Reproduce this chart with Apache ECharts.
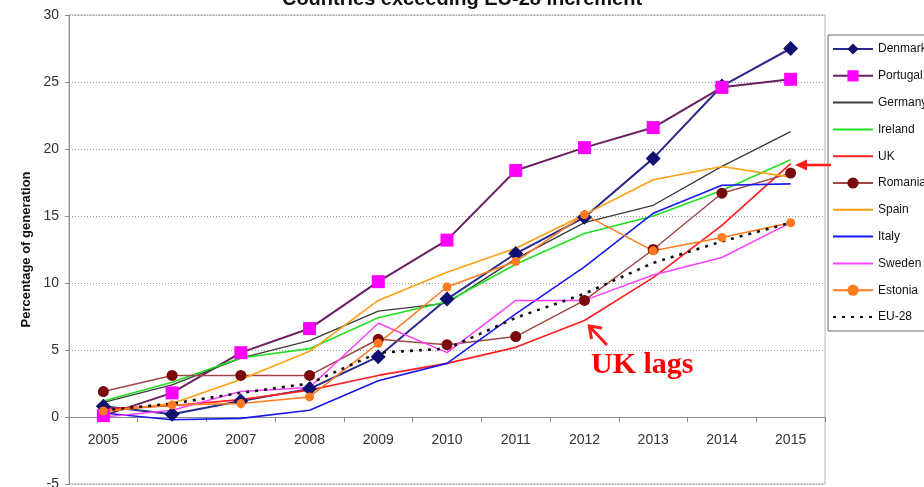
<!DOCTYPE html>
<html>
<head>
<meta charset="utf-8">
<script src="https://cdn.jsdelivr.net/npm/echarts@6/dist/echarts.min.js"></script>
<style>
html,body{margin:0;padding:0;background:#fff;}
#chart{width:924px;height:487px;}
</style>
</head>
<body>
<div id="chart"></div>
<script>
var years = ['2005','2006','2007','2008','2009','2010','2011','2012','2013','2014','2015'];
var denmark  = [0.8, 0.2, 1.2, 2.1, 4.5, 8.8, 12.2, 14.9, 19.3, 24.7, 27.5];
var portugal = [0.1, 1.8, 4.8, 6.6, 10.1, 13.2, 18.4, 20.1, 21.6, 24.6, 25.2];
var germany  = [1.1, 2.4, 4.4, 5.7, 7.9, 8.5, 11.8, 14.5, 15.8, 18.7, 21.3];
var ireland  = [1.2, 2.6, 4.4, 5.1, 7.4, 8.6, 11.4, 13.7, 15.0, 16.9, 19.2];
var uk       = [0.6, 0.85, 1.3, 2.0, 3.1, 4.0, 5.2, 7.2, 10.4, 14.3, 18.9];
var romania  = [1.9, 3.1, 3.1, 3.1, 5.8, 5.4, 6.0, 8.7, 12.5, 16.7, 18.2];
var spain    = [0.4, 1.0, 2.8, 4.9, 8.7, 10.8, 12.6, 15.1, 17.7, 18.7, 17.9];
var italy    = [0.3, -0.2, -0.1, 0.5, 2.7, 4.0, 7.7, 11.2, 15.2, 17.3, 17.4];
var sweden   = [0.0, 0.5, 1.9, 2.2, 7.0, 4.8, 8.7, 8.7, 10.6, 11.9, 14.5];
var estonia  = [0.45, 0.9, 1.0, 1.5, 5.5, 9.7, 11.6, 15.1, 12.4, 13.4, 14.5];
var eu28     = [0.5, 1.0, 1.8, 2.5, 4.8, 5.1, 7.4, 9.2, 11.5, 13.1, 14.5];
var legendNames = ['Denmark','Portugal','Germany','Ireland','UK','Romania','Spain','Italy','Sweden','Estonia','EU-28'];
var noMarker = ['Germany','Ireland','UK','Spain','Italy','Sweden','EU-28'];

var FONT = 'Liberation Sans, Arial, sans-serif';
var Y_MIN = -5, Y_MAX = 30;
var GRID_TOP = 15, GRID_BOTTOM = 3, H = 487;
// distance from the grid bottom to the zero line, so the category axis sits at y = 0
var zeroOffset = (0 - Y_MIN) / (Y_MAX - Y_MIN) * (H - GRID_TOP - GRID_BOTTOM);

function ln(name, data, color, width, symbol, symbolSize, markColor, dash) {
  return {
    name: name, type: 'line', data: data,
    symbol: symbol || 'none', symbolSize: symbolSize || 0,
    showSymbol: !!symbol,
    lineStyle: {color: color, width: width, type: dash || 'solid'},
    itemStyle: {color: markColor || color, borderWidth: 0},
    emphasis: {disabled: true},
    animation: false,
    z: 3
  };
}

var chart = echarts.init(document.getElementById('chart'), null, {renderer: 'canvas'});
chart.setOption({
  backgroundColor: '#fff',
  animation: false,
  title: {
    text: 'Countries exceeding EU-28 increment',
    left: 'center', top: -16,
    textStyle: {fontFamily: FONT, fontSize: 20, fontWeight: 'bold', color: '#111'}
  },
  grid: {left: 69, right: 99, top: GRID_TOP, bottom: GRID_BOTTOM, outerBoundsMode: 'none', containLabel: false,
         show: true, borderColor: '#b5b5b5', borderWidth: 1, backgroundColor: 'transparent'},
  legend: {
    orient: 'vertical', left: 828, top: 35,
    padding: [8, 60, 8, 4],
    itemGap: 14.8, itemWidth: 40, itemHeight: 14,
    borderColor: '#666', borderWidth: 1, backgroundColor: '#fff',
    textStyle: {fontFamily: FONT, fontSize: 12, color: '#111'},
    data: legendNames.map(function (n) {
      return noMarker.indexOf(n) >= 0 ? {name: n, itemStyle: {opacity: 0}} : {name: n};
    })
  },
  xAxis: {
    type: 'category', data: years, boundaryGap: true,
    offset: -zeroOffset,
    axisLine: {onZero: false, lineStyle: {color: '#8a8a8a', width: 1}},
    axisTick: {show: true, length: 5, lineStyle: {color: '#8a8a8a'}},
    axisLabel: {fontFamily: FONT, fontSize: 14, color: '#333', margin: 16},
    splitLine: {show: false}
  },
  yAxis: {
    type: 'value', min: Y_MIN, max: Y_MAX, interval: 5,
    name: 'Percentage of generation', nameLocation: 'middle', nameGap: 36,
    nameTextStyle: {fontFamily: FONT, fontSize: 13, fontWeight: 'bold', color: '#111'},
    axisLine: {show: true, lineStyle: {color: '#8a8a8a', width: 1}},
    axisTick: {show: true, length: 4, lineStyle: {color: '#8a8a8a'}},
    axisLabel: {fontFamily: FONT, fontSize: 14, color: '#333', margin: 10},
    splitLine: {show: true, lineStyle: {color: '#9a9a9a', type: [1, 2], width: 1}}
  },
  series: [
    ln('Denmark', denmark, '#2a2a8c', 2, 'diamond', 15, '#10106e'),
    ln('Portugal', portugal, '#6a1f5e', 2, 'rect', 13, '#ff00ff'),
    ln('Germany', germany, '#3a3a3a', 1.3),
    ln('Ireland', ireland, '#22e022', 1.6),
    ln('UK', uk, '#ff2020', 1.7),
    ln('Romania', romania, '#a04848', 1.5, 'circle', 11, '#7a0a0a'),
    ln('Spain', spain, '#ffa010', 1.6),
    ln('Italy', italy, '#1818ee', 1.6),
    ln('Sweden', sweden, '#ff40ff', 1.5),
    ln('Estonia', estonia, '#ff7a20', 1.5, 'circle', 9, '#ff7a20'),
    ln('EU-28', eu28, '#111111', 2.6, null, 0, null, [3, 6])
  ],
  graphic: [
    {type: 'line', z: 100, shape: {x1: 831, y1: 165, x2: 804, y2: 165}, style: {stroke: '#ff1a1a', lineWidth: 2.5}},
    {type: 'polygon', z: 100, shape: {points: [[795, 165], [807, 159.5], [807, 170.5]]}, style: {fill: '#ff1a1a'}},
    {type: 'line', z: 100, shape: {x1: 607, y1: 345, x2: 590.5, y2: 327.5}, style: {stroke: '#ff1a1a', lineWidth: 3}},
    {type: 'polyline', z: 100, shape: {points: [[591.5, 339], [589.3, 326], [602, 328]]}, style: {stroke: '#ff1a1a', lineWidth: 3, fill: null}},
    {type: 'text', z: 100, left: 591, top: 350, style: {text: 'UK lags', fill: '#ff0000', font: 'bold 30px "Liberation Serif", "Times New Roman", serif'}}
  ]
});
</script>
</body>
</html>
